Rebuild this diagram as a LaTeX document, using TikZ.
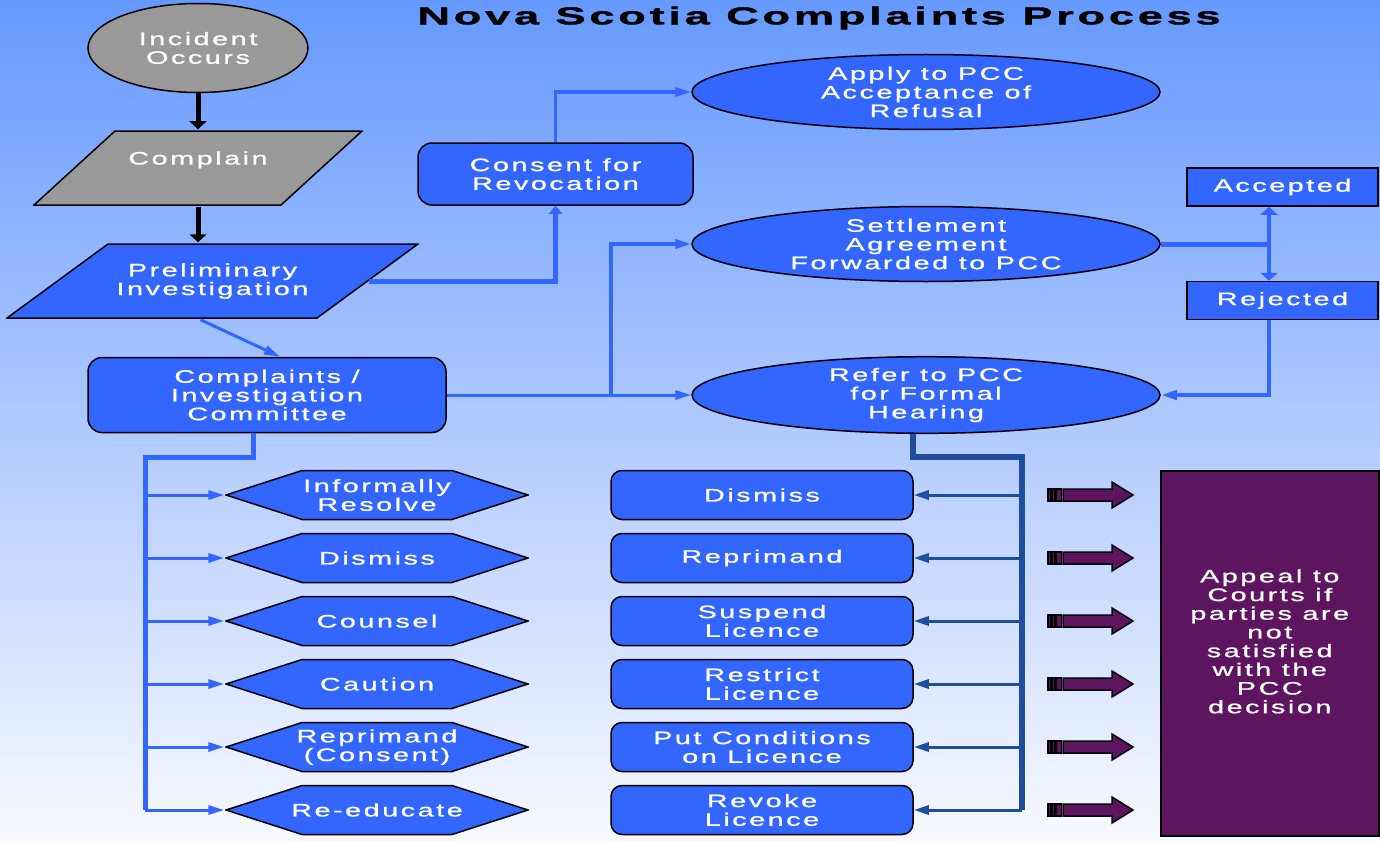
\documentclass[tikz,border=0pt]{standalone}
\usepackage{fontspec}
\setmainfont{Liberation Sans}
\newfontfamily\boxfont{Liberation Sans}[FakeStretch=1.6,LetterSpace=14,FakeBold=1]
\newfontfamily\headfont{Liberation Sans}[FakeStretch=1.85,LetterSpace=15,FakeBold=1.5]
\usetikzlibrary{arrows.meta,calc,shapes.geometric}
\definecolor{cSkyTop}{HTML}{6699FF}
\definecolor{cSkyBot}{HTML}{F8F9FF}
\definecolor{cBox}{HTML}{3366FF}
\definecolor{cGrey}{HTML}{999999}
\definecolor{cLine}{HTML}{3366FF}
\definecolor{cDark}{HTML}{1F4E9E}
\definecolor{cAppeal}{HTML}{5E1560}
\tikzset{
  rnode/.style={draw=black, line width=1.5pt, align=center, text=white,
    font=\boxfont\fontsize{18}{18.7}\selectfont, inner sep=2pt},
  start/.style={rnode, ellipse, fill=cGrey, minimum width=220pt, minimum height=89pt},
  % parallelogram drawn inside a plain box: #1 fill, #2 slant offset
  slant/.style 2 args={rnode, draw=none, minimum height=76pt, path picture={
      \draw[line width=1.5pt, fill=#1]
        ([shift={(1pt,1pt)}]path picture bounding box.south west)
        -- ([shift={(#2,-1pt)}]path picture bounding box.north west)
        -- ([shift={(-1pt,-1pt)}]path picture bounding box.north east)
        -- ([shift={(-#2,1pt)}]path picture bounding box.south east) -- cycle;}},
  pcc/.style={rnode, ellipse, fill=cBox, inner sep=0pt, minimum width=468pt, minimum height=75pt},
  panel/.style={rnode, rounded corners=14pt, fill=cBox},
  verdict/.style={rnode, fill=cBox, minimum width=191pt, minimum height=38pt},
  option/.style={rnode, draw=none, minimum width=304pt, minimum height=51pt, path picture={
      \draw[line width=1.5pt, fill=cBox]
        ([xshift=1pt]path picture bounding box.west)
        -- ([shift={(77pt,-1pt)}]path picture bounding box.north west)
        -- ([shift={(-77pt,-1pt)}]path picture bounding box.north east)
        -- ([xshift=-1pt]path picture bounding box.east)
        -- ([shift={(-77pt,1pt)}]path picture bounding box.south east)
        -- ([shift={(77pt,1pt)}]path picture bounding box.south west) -- cycle;}},
  outcome/.style={rnode, rounded corners=11pt, fill=cBox, minimum width=302pt, minimum height=49pt},
  down/.style={-{Triangle[length=8pt,width=17pt]}, line width=5pt, black},
  flow/.style={-{Triangle[length=16pt,width=9pt]}, line width=3pt, draw=cLine},
  flowup/.style={-{Triangle[length=8pt,width=13pt]}, line width=5pt, draw=cLine},
  twoway/.style={{Triangle[length=8pt,width=17pt]}-{Triangle[length=8pt,width=17pt]}, line width=4pt, draw=cLine},
  bus/.style={line width=5pt, draw=cLine},
  dbus/.style={line width=6pt, draw=cDark},
  dflow/.style={-{Triangle[length=15pt,width=9pt]}, line width=3pt, draw=cDark},
  appeal/.style={draw=black, line width=1.5pt, fill=cAppeal},
}

\begin{document}
\begin{tikzpicture}[x=1pt, y=-1pt]
    % backdrop
    \fill[top color=cSkyTop, bottom color=cSkyBot] (0,0) rectangle (1380,840);
    \useasboundingbox (0,0) rectangle (1380,840);
    \node[font=\headfont\bfseries\fontsize{24.5}{26}\selectfont] (title) at (819,18) {Nova Scotia Complaints Process};

    % intake
    \node[start] (incident) at (198,48) {Incident\\Occurs};
    \node[slant={cGrey}{82pt}, minimum width=330pt, text depth=20pt] (complain) at (198,168) {Complain};
    \node[slant={cBox}{102pt}, minimum width=413pt] (prelim) at (212.5,281) {Preliminary\\Investigation};
    \node[panel, minimum width=358pt, minimum height=75pt] (committee) at (267,395) {Complaints /\\Investigation\\Committee};
    \node[panel, minimum width=275pt, minimum height=62pt] (consent) at (555.5,174) {Consent for\\Revocation};

    % PCC
    \node[pcc] (apply) at (926,92) {Apply to PCC\\Acceptance of\\Refusal};
    \node[pcc] (settle) at (926,244) {Settlement\\Agreement\\Forwarded to PCC};
    \node[pcc] (refer) at (926,395) {Refer to PCC\\for Formal\\Hearing};
    \node[verdict] (accepted) at (1282.5,187) {Accepted};
    \node[verdict] (rejected) at (1282.5,300.5) {Rejected};

    % outcomes
    \foreach \txt [count=\i] in {{Informally\\Resolve}, Dismiss, Counsel, Caution, {Reprimand\\(Consent)}, Re-educate}
      \node[option] (h\i) at (377,{432+63*\i}) {\txt};
    \foreach \txt [count=\i] in {Dismiss, Reprimand, {Suspend\\Licence}, {Restrict\\Licence}, {Put Conditions\\on Licence}, {Revoke\\Licence}}
      \node[outcome] (r\i) at (762,{432+63*\i}) {\txt};
    \node[rnode, fill=cAppeal, minimum width=218pt, minimum height=365pt, text depth=24pt, anchor=north west] (appeal) at (1160,470)
      {Appeal to\\Courts if\\parties are\\not\\satisfied\\with the\\PCC\\decision};

    % connectors
    \draw[down] (incident) -- (complain);
    \draw[down] (complain.south) -- (complain.south |- prelim.north);
    \draw[flow] ([xshift=-12pt]prelim.south) -- ([xshift=13pt]committee.north);
    \draw[flowup] ([xshift=-51pt]prelim.east) -| (consent.south);
    \draw[flow, line width=3.5pt] (consent.north) |- (apply.west);
    \draw[flow] (committee.east) -- (refer.west);
    \draw[flow, line width=3.5pt] ($(committee.east)+(164,0)$) |- (settle.west);
    \draw[bus] (settle.east) -- ([xshift=-13.5pt]settle.east -| accepted.south);
    \draw[twoway] ([xshift=-13.5pt]accepted.south) -- ([xshift=-13.5pt]rejected.north);
    \draw[flow, line width=4pt] ([xshift=-13.5pt]rejected.south) |- (refer.east);

    % branch buses
    \coordinate (lbus) at (145,457);
    \coordinate (rbus) at (1022,457);
    \draw[bus] ([xshift=-14pt]committee.south) |- (lbus) -- (lbus |- h6.west);
    \draw[dbus] ([xshift=-13pt]refer.south) |- (rbus) -- (rbus |- r6.east);
    \foreach \i in {1,...,6} {
      \draw[flow] (lbus |- h\i.west) -- (h\i.west);
      \draw[dflow] (rbus |- r\i.east) -- (r\i.east);
    }

    % striped arrows to the appeal box
    \foreach \y in {495,558,621,684,747,810} {
      \draw[appeal] (1048,{\y-6}) rectangle (1050.5,{\y+6});
      \draw[appeal] (1052,{\y-6}) rectangle (1054.5,{\y+6});
      \draw[appeal] (1056,{\y-6}) rectangle (1061.5,{\y+6});
      \draw[appeal] (1063,{\y-6}) -- (1112,{\y-6}) -- (1112,{\y-13}) -- (1133,\y)
        -- (1112,{\y+13}) -- (1112,{\y+6}) -- (1063,{\y+6}) -- cycle;
    }
\end{tikzpicture}
\end{document}
